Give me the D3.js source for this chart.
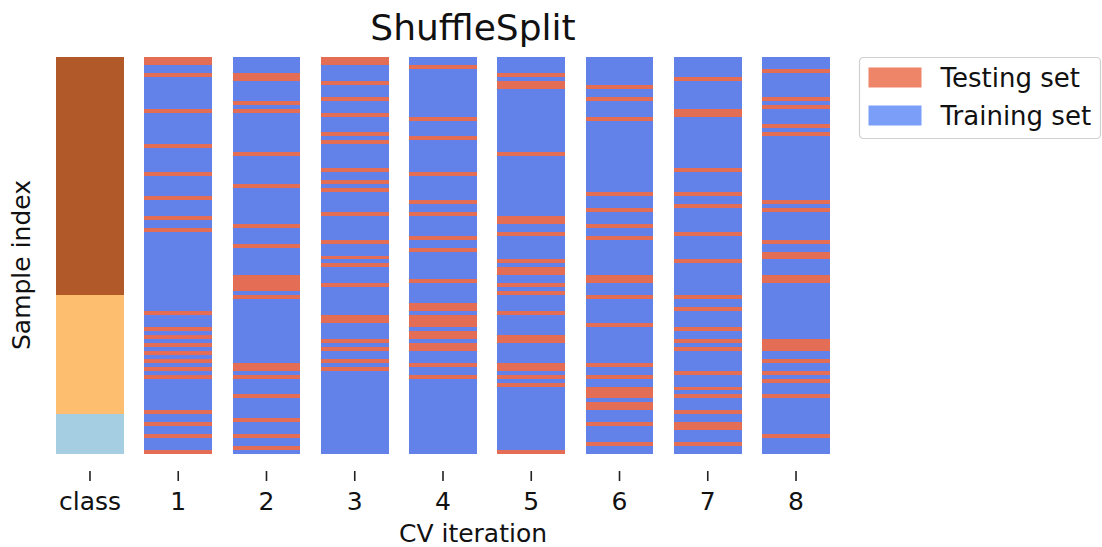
<!DOCTYPE html>
<html>
<head>
<meta charset="utf-8">
<script src="https://cdn.jsdelivr.net/npm/d3@7"></script>
<style>
  body { margin: 0; background: #fff; }
  text { font-family: "DejaVu Sans", sans-serif; fill: #111; }
</style>
</head>
<body>
<svg width="1102" height="547"></svg>
<script>
// columns along x
const iterations = ["class", "1", "2", "3", "4", "5", "6", "7", "8"];

// class of each sample, listed from the top row down
const classCounts = [60, 30, 10];
const classIds = [2, 1, 0];
const nSamples = 100;

// testing-set row indices (0 = top row) for each CV iteration
const split1 = [0, 1, 4, 13, 22, 29, 35, 40, 43, 64, 68, 70, 72, 74, 76, 78, 80, 89, 92, 95, 99];
const split2 = [4, 5, 11, 13, 24, 32, 42, 47, 55, 56, 57, 58, 60, 77, 78, 80, 85, 91, 95, 98];
const split3 = [0, 1, 6, 10, 14, 19, 21, 28, 31, 33, 39, 46, 50, 52, 57, 65, 66, 71, 73, 76, 78];
const split4 = [2, 15, 20, 29, 36, 39, 45, 48, 56, 62, 63, 65, 66, 67, 69, 70, 72, 73, 77, 80];
const split5 = [4, 6, 7, 24, 40, 41, 44, 51, 53, 54, 57, 59, 64, 70, 71, 77, 78, 80, 82, 99];
const split6 = [7, 10, 15, 34, 38, 42, 45, 55, 56, 60, 67, 77, 80, 83, 84, 85, 87, 88, 92, 97];
const split7 = [5, 13, 14, 28, 34, 37, 44, 51, 60, 63, 68, 71, 73, 79, 83, 85, 89, 92, 93, 97];
const split8 = [3, 10, 12, 17, 19, 36, 38, 46, 49, 50, 55, 56, 71, 72, 73, 76, 79, 81, 85, 95];
const splits = [split1, split2, split3, split4, split5, split6, split7, split8];

const legendLabels = ["Testing set", "Training set"];

const svg = d3.select("svg");

const classColor = d3.scaleOrdinal().domain([0, 1, 2]).range(["#a6cee3", "#fdbf6f", "#b15928"]);
const testColor = "#e46d55",
  trainColor = "#6282ea";

const x = d3
  .scaleBand()
  .domain(iterations)
  .range([56, 830])
  .paddingInner(0.23)
  .paddingOuter(0);
const y = d3.scaleLinear().domain([0, nSamples]).range([57, 454]);

// class of every row
const classRows = [];
classCounts.forEach((c, i) => {
  for (let k = 0; k < c; k++) classRows.push(classIds[i]);
});

// one cell per (column, row)
const cells = [];
classRows.forEach((c, r) => cells.push({ col: "class", row: r, color: classColor(c) }));
splits.forEach((s, i) => {
  const set = new Set(s);
  for (let r = 0; r < nSamples; r++) {
    cells.push({ col: iterations[i + 1], row: r, color: set.has(r) ? testColor : trainColor });
  }
});

svg
  .append("g")
  .attr("shape-rendering", "crispEdges")
  .selectAll("rect")
  .data(cells)
  .enter()
  .append("rect")
  .attr("x", d => x(d.col))
  .attr("y", d => y(d.row))
  .attr("width", x.bandwidth())
  .attr("height", d => y(d.row + 1) - y(d.row))
  .attr("fill", d => d.color);

// x axis: ticks only, no spine
const axis = svg
  .append("g")
  .attr("transform", "translate(0, 471)")
  .call(d3.axisBottom(x).tickSize(10).tickPadding(11));
axis.select(".domain").remove();
axis.selectAll(".tick line").attr("stroke", "#222").attr("stroke-width", 1.6);
axis
  .selectAll(".tick text")
  .attr("font-size", "25px")
  .attr("font-family", "DejaVu Sans, sans-serif")
  .attr("fill", "#111");

svg
  .append("text")
  .attr("x", 473)
  .attr("y", 40)
  .attr("text-anchor", "middle")
  .attr("font-size", "36px")
  .text("ShuffleSplit");

svg
  .append("text")
  .attr("x", 473)
  .attr("y", 542)
  .attr("text-anchor", "middle")
  .attr("font-size", "25px")
  .text("CV iteration");

svg
  .append("text")
  .attr("transform", "translate(30, 265) rotate(-90)")
  .attr("text-anchor", "middle")
  .attr("font-size", "25px")
  .text("Sample index");

// legend
const legend = svg.append("g").attr("transform", "translate(859.5, 57.5)");
legend
  .append("rect")
  .attr("width", 241)
  .attr("height", 81)
  .attr("rx", 4)
  .attr("fill", "#fff")
  .attr("stroke", "#d0d0d0")
  .attr("stroke-width", 1.2);
const legendColors = ["#ee8468", "#7b9ff9"];
legendLabels.forEach((lab, i) => {
  legend
    .append("rect")
    .attr("x", 9)
    .attr("y", 10 + i * 38)
    .attr("width", 53)
    .attr("height", 20)
    .attr("fill", legendColors[i]);
  legend
    .append("text")
    .attr("x", 81)
    .attr("y", 29 + i * 38)
    .attr("font-size", "26px")
    .text(lab);
});
</script>
</body>
</html>
